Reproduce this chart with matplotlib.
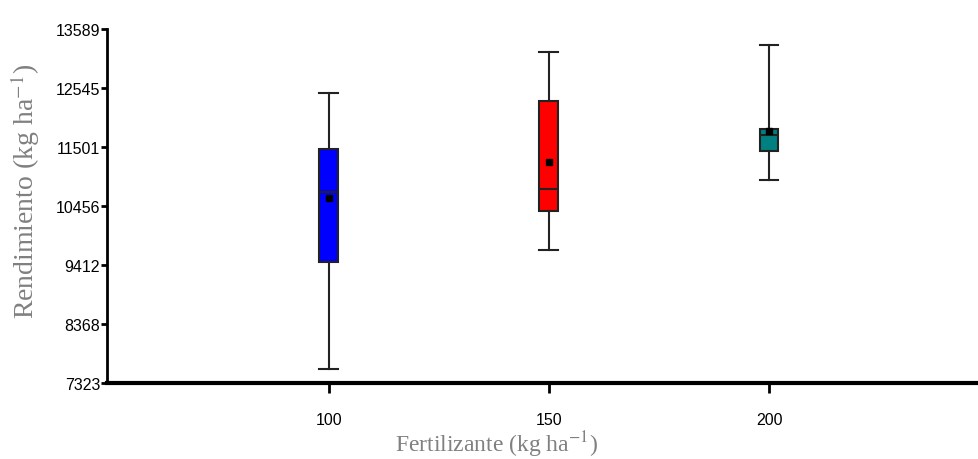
import matplotlib
matplotlib.use('Agg')
import matplotlib.pyplot as plt

# datos
dosis = [100, 150, 200]
colores = ['#0000FF', '#FF0000', '#008080']
minimo = [7572, 9684, 10909]
q1 = [9471, 10359, 11424]
mediana = [10696, 10749, 11707]
q3 = [11459, 12311, 11814]
maximo = [12453, 13181, 13305]
media = [10589, 11228, 11779]
yticks = [7323, 8368, 9412, 10456, 11501, 12545, 13589]

plt.rcParams['mathtext.fontset'] = 'stix'

stats = []
for i in range(len(dosis)):
    stats.append({'whislo': minimo[i], 'q1': q1[i], 'med': mediana[i],
                  'q3': q3[i], 'whishi': maximo[i], 'mean': media[i], 'fliers': []})

fig = plt.figure(figsize=(9.79, 4.6), dpi=100)
ax = fig.add_axes([107 / 979, 76 / 460, 1 - 107 / 979, 354 / 460])

bp = ax.bxp(stats, positions=dosis, widths=4.3, patch_artist=True, showmeans=True,
            showfliers=False,
            boxprops=dict(linewidth=1.5, edgecolor='#222222'),
            medianprops=dict(color='#222222', linewidth=1.5),
            whiskerprops=dict(color='#222222', linewidth=1.5),
            capprops=dict(color='#222222', linewidth=1.5),
            meanprops=dict(marker='s', markerfacecolor='black', markeredgecolor='black', markersize=5),
            capwidths=4.3)
for caja, c in zip(bp['boxes'], colores):
    caja.set_facecolor(c)

ax.set_xlim(49.6, 247.7)
ax.set_ylim(7323, 13589)
ax.set_yticks(yticks)
ax.set_yticklabels([str(v) for v in yticks], fontsize=11.5, family='Liberation Sans')
ax.set_xticks(dosis)
ax.set_xticklabels([str(v) for v in dosis], fontsize=11.5, family='Liberation Sans')

for s in ['top', 'right']:
    ax.spines[s].set_visible(False)
ax.spines['left'].set_linewidth(2)
ax.spines['bottom'].set_linewidth(3)
ax.tick_params(axis='y', length=4, width=2, pad=1)
ax.tick_params(axis='x', length=7, width=2, pad=14)

ax.set_ylabel('Rendimiento (kg ha$^{-1}$)', fontsize=20, family='Liberation Serif', color='#808080')
ax.set_xlabel('Fertilizante (kg ha$^{-1}$)', fontsize=17, family='Liberation Serif', color='#808080')
ax.yaxis.set_label_coords(-0.074, 0.545)
ax.xaxis.set_label_coords((497 - 107) / 872, -0.13)

fig.savefig('out.png', dpi=100)
